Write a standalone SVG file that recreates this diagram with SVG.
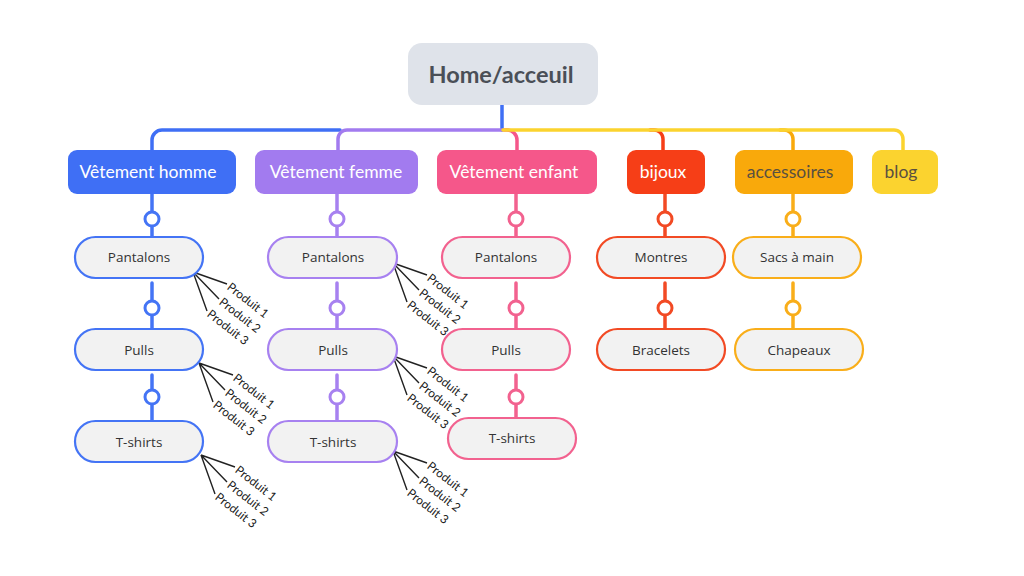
<svg xmlns="http://www.w3.org/2000/svg" width="1024" height="576" viewBox="0 0 1024 576">
<style>
.trunk{fill:none;stroke-width:3.5;stroke-linecap:round;stroke-linejoin:round}
.l1{font-family:Lato,"Noto Sans",sans-serif;font-size:17.5px;text-anchor:middle;dominant-baseline:central}
.pill{fill:#f2f2f2;stroke-width:2.2}
.l2{font-family:"Open Sans","Noto Sans",sans-serif;font-size:13.5px;fill:#333;text-anchor:middle;dominant-baseline:central}
.dot{fill:#fff;stroke-width:3}
.pl{stroke:#222;stroke-width:1.4;fill:none}
.pt{font-family:Lato,"Noto Sans",sans-serif;font-size:12px;fill:#222;dominant-baseline:central}
</style>
<rect width="1024" height="576" fill="#fff"/>
<g id="connectors">
  <path class="trunk" stroke="#3f6ff5" d="M502,105 V130 M340,130 H162 A10,10 0 0 0 152,140 V150"/>
  <path class="trunk" stroke="#a27bef" d="M502,130 H347 A9,9 0 0 0 338,139 V150"/>
  <path class="trunk" stroke="#f5578a" d="M504,130 H507 A10,10 0 0 1 517,140 V150"/>
  <path class="trunk" stroke="#f63e17" d="M650,130 H654 A9,9 0 0 1 663,139 V150"/>
  <path class="trunk" stroke="#f9a90b" d="M780,130 H784 A9,9 0 0 1 793,139 V150"/>
  <path class="trunk" stroke="#fbd32f" d="M503,130 H894 A9,9 0 0 1 903,139 V150"/>
  <g stroke="#4474f5">
    <path class="trunk" d="M152,193 V236 M152,283 V329 M152,375 V421"/>
    <circle class="dot" cx="152" cy="219" r="7"/>
    <circle class="dot" cx="152" cy="308" r="7"/>
    <circle class="dot" cx="152" cy="397" r="7"/>
  </g>
  <g stroke="#a781f0">
    <path class="trunk" d="M337,193 V236 M337,283 V329 M337,375 V421"/>
    <circle class="dot" cx="337" cy="219" r="7"/>
    <circle class="dot" cx="337" cy="308" r="7"/>
    <circle class="dot" cx="337" cy="397" r="7"/>
  </g>
  <g stroke="#f2628f">
    <path class="trunk" d="M516,193 V236 M516,283 V329 M516,375 V418"/>
    <circle class="dot" cx="516" cy="219" r="7"/>
    <circle class="dot" cx="516" cy="308" r="7"/>
    <circle class="dot" cx="516" cy="397" r="7"/>
  </g>
  <g stroke="#f24a24">
    <path class="trunk" d="M665,193 V236 M665,283 V329"/>
    <circle class="dot" cx="665" cy="219" r="7"/>
    <circle class="dot" cx="665" cy="308" r="7"/>
  </g>
  <g stroke="#f9ae1a">
    <path class="trunk" d="M793,193 V236 M793,283 V329"/>
    <circle class="dot" cx="793" cy="219" r="7"/>
    <circle class="dot" cx="793" cy="308" r="7"/>
  </g>
  <path class="pl" d="M193,272 L227,284 M193,272 L219,299 M193,272 L207,311"/>
  <path class="pl" d="M199,363 L233,375 M199,363 L225,390 M199,363 L213,402"/>
  <path class="pl" d="M201,455 L235,467 M201,455 L227,482 M201,455 L215,494"/>
  <path class="pl" d="M393,263 L427,275 M393,263 L419,290 M393,263 L407,302"/>
  <path class="pl" d="M393,356 L427,368 M393,356 L419,383 M393,356 L407,395"/>
  <path class="pl" d="M393,451 L427,463 M393,451 L419,478 M393,451 L407,490"/>
</g>
<g id="home">
  <rect x="408" y="43" width="190" height="62" rx="14" fill="#dfe3ea"/>
  <text x="501" y="74" font-family="Lato,'Noto Sans',sans-serif" font-size="23.5" font-weight="bold" fill="#4a4f57" text-anchor="middle" dominant-baseline="central">Home/acceuil</text>
</g>
<g id="vetement-homme">
  <rect x="68" y="150" width="168" height="44" rx="9" fill="#3f6ff5"/>
  <text class="l1" x="148" y="171" fill="#fff">Vêtement homme</text>
</g>
<g id="vetement-femme">
  <rect x="255" y="150" width="163" height="44" rx="9" fill="#a27bef"/>
  <text class="l1" x="336" y="171" fill="#fff">Vêtement femme</text>
</g>
<g id="vetement-enfant">
  <rect x="437" y="150" width="160" height="44" rx="9" fill="#f5578a"/>
  <text class="l1" x="514" y="171" fill="#fff">Vêtement enfant</text>
</g>
<g id="bijoux">
  <rect x="627" y="150" width="78" height="44" rx="9" fill="#f63e17"/>
  <text class="l1" x="663" y="171" fill="#fff">bijoux</text>
</g>
<g id="accessoires">
  <rect x="735" y="150" width="118" height="44" rx="9" fill="#f9a90b"/>
  <text class="l1" x="790" y="171" fill="#5a5040">accessoires</text>
</g>
<g id="blog">
  <rect x="872" y="150" width="66" height="44" rx="9" fill="#fbd32f"/>
  <text class="l1" x="901" y="171" fill="#5a5040">blog</text>
</g>
<g id="h-pantalons">
  <rect class="pill" x="75" y="237" width="128" height="41" rx="20.5" stroke="#4474f5"/>
  <text class="l2" x="139" y="257">Pantalons</text>
  <text class="pt" transform="rotate(38 229 285)" x="229" y="285">Produit 1</text>
  <text class="pt" transform="rotate(38 221 300)" x="221" y="300">Produit 2</text>
  <text class="pt" transform="rotate(38 209 312)" x="209" y="312">Produit 3</text>
</g>
<g id="h-pulls">
  <rect class="pill" x="75" y="329" width="128" height="41" rx="20.5" stroke="#4474f5"/>
  <text class="l2" x="139" y="350">Pulls</text>
  <text class="pt" transform="rotate(38 235 376)" x="235" y="376">Produit 1</text>
  <text class="pt" transform="rotate(38 227 391)" x="227" y="391">Produit 2</text>
  <text class="pt" transform="rotate(38 215 403)" x="215" y="403">Produit 3</text>
</g>
<g id="h-tshirts">
  <rect class="pill" x="75" y="421" width="128" height="41" rx="20.5" stroke="#4474f5"/>
  <text class="l2" x="139" y="442">T-shirts</text>
  <text class="pt" transform="rotate(38 237 468)" x="237" y="468">Produit 1</text>
  <text class="pt" transform="rotate(38 229 483)" x="229" y="483">Produit 2</text>
  <text class="pt" transform="rotate(38 217 495)" x="217" y="495">Produit 3</text>
</g>
<g id="f-pantalons">
  <rect class="pill" x="268" y="237" width="129" height="41" rx="20.5" stroke="#a781f0"/>
  <text class="l2" x="333" y="257">Pantalons</text>
  <text class="pt" transform="rotate(38 429 276)" x="429" y="276">Produit 1</text>
  <text class="pt" transform="rotate(38 421 291)" x="421" y="291">Produit 2</text>
  <text class="pt" transform="rotate(38 409 303)" x="409" y="303">Produit 3</text>
</g>
<g id="f-pulls">
  <rect class="pill" x="268" y="329" width="129" height="41" rx="20.5" stroke="#a781f0"/>
  <text class="l2" x="333" y="350">Pulls</text>
  <text class="pt" transform="rotate(38 429 369)" x="429" y="369">Produit 1</text>
  <text class="pt" transform="rotate(38 421 384)" x="421" y="384">Produit 2</text>
  <text class="pt" transform="rotate(38 409 396)" x="409" y="396">Produit 3</text>
</g>
<g id="f-tshirts">
  <rect class="pill" x="268" y="421" width="129" height="41" rx="20.5" stroke="#a781f0"/>
  <text class="l2" x="333" y="442">T-shirts</text>
  <text class="pt" transform="rotate(38 429 464)" x="429" y="464">Produit 1</text>
  <text class="pt" transform="rotate(38 421 479)" x="421" y="479">Produit 2</text>
  <text class="pt" transform="rotate(38 409 491)" x="409" y="491">Produit 3</text>
</g>
<g id="e-pantalons">
  <rect class="pill" x="442" y="237" width="128" height="41" rx="20.5" stroke="#f2628f"/>
  <text class="l2" x="506" y="257">Pantalons</text>
</g>
<g id="e-pulls">
  <rect class="pill" x="442" y="329" width="128" height="41" rx="20.5" stroke="#f2628f"/>
  <text class="l2" x="506" y="350">Pulls</text>
</g>
<g id="e-tshirts">
  <rect class="pill" x="448" y="418" width="128" height="41" rx="20.5" stroke="#f2628f"/>
  <text class="l2" x="512" y="438">T-shirts</text>
</g>
<g id="montres">
  <rect class="pill" x="597" y="237" width="128" height="41" rx="20.5" stroke="#f24a24"/>
  <text class="l2" x="661" y="257">Montres</text>
</g>
<g id="bracelets">
  <rect class="pill" x="597" y="329" width="128" height="41" rx="20.5" stroke="#f24a24"/>
  <text class="l2" x="661" y="350">Bracelets</text>
</g>
<g id="sacs">
  <rect class="pill" x="733" y="237" width="128" height="41" rx="20.5" stroke="#f9ae1a"/>
  <text class="l2" x="797" y="257">Sacs à main</text>
</g>
<g id="chapeaux">
  <rect class="pill" x="735" y="329" width="128" height="41" rx="20.5" stroke="#f9ae1a"/>
  <text class="l2" x="799" y="350">Chapeaux</text>
</g>
</svg>
